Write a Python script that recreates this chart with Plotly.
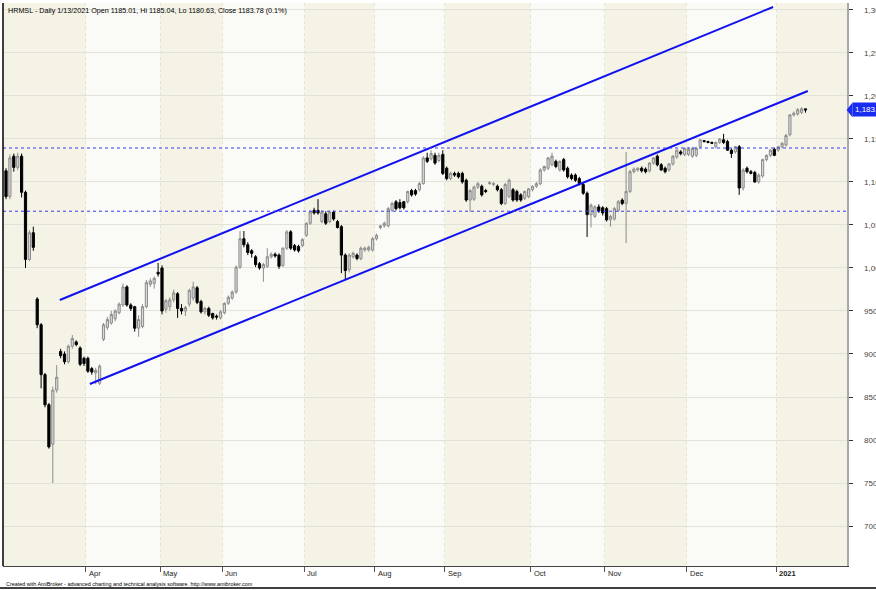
import plotly.graph_objects as go

# ---------------- data ----------------
opens = [1113, 1083, 1130, 1117, 1130, 1088, 1010, 1041, 964, 934, 876, 841, 795, 858, 903, 900, 891, 909, 914, 907, 895,
         895, 883, 878, 866, 917, 931, 936, 941, 948, 957, 978, 957, 955, 930, 932, 955, 981, 982, 995,
         1000, 952, 955, 963, 970, 953, 950, 958, 965, 977, 961, 949, 953, 947, 944, 942,
         948, 959, 965, 972, 1001, 1034, 1027, 1020, 1013, 1005, 1000, 1002, 1013, 1016, 1015, 1003, 1023, 1042, 1026, 1025, 1026,
         1038, 1052, 1067, 1067, 1054, 1063, 1054, 1065, 1054, 1048, 1015, 998, 1013, 1015, 1011, 1021, 1021, 1021,
         1034, 1047, 1049, 1049, 1067, 1077, 1076, 1077, 1077, 1090, 1090, 1091, 1098, 1128, 1127, 1131, 1125, 1132,
         1116, 1104, 1110, 1110, 1110, 1102, 1079, 1080, 1094, 1095, 1090, 1098, 1097, 1095, 1091, 1075, 1083, 1091, 1089, 1085, 1081, 1083,
         1091, 1095, 1098, 1114, 1116, 1120, 1124, 1114, 1126, 1116, 1108, 1108, 1104, 1097, 1087, 1062, 1060, 1071, 1070,
         1069, 1056, 1057, 1067, 1079, 1075, 1089, 1112, 1114, 1116, 1115, 1113, 1122, 1130, 1120, 1116, 1114, 1121, 1129, 1135, 1132,
         1132, 1130, 1131, 1141, 1148, 1147, 1146, 1141, 1146, 1149, 1147, 1137, 1135, 1141, 1093, 1116, 1112, 1111, 1100, 1107, 1126, 1131, 1138,
         1137, 1141, 1143, 1155, 1178, 1179, 1181, 1185.01]
highs = [1116, 1132, 1133, 1134, 1133, 1090, 1044, 1048, 966, 936, 878, 843, 862, 887, 906, 903, 911, 922, 916, 909, 897,
         897, 885, 884, 888, 936, 943, 950, 952, 960, 982, 980, 959, 956, 945, 958, 986, 988, 990, 1006,
         1003, 964, 966, 975, 972, 958, 956, 976, 984, 979, 963, 955, 955, 948, 946, 951,
         960, 968, 974, 1003, 1043, 1043, 1030, 1022, 1015, 1007, 1006, 1023, 1018, 1018, 1017, 1024, 1044, 1044, 1028, 1027, 1035,
         1053, 1067, 1070, 1080, 1067, 1066, 1067, 1067, 1056, 1050, 1017, 1017, 1019, 1017, 1025, 1025, 1026, 1036,
         1040, 1050, 1054, 1071, 1077, 1079, 1080, 1078, 1090, 1092, 1092, 1100, 1130, 1134, 1137, 1134, 1134, 1137,
         1118, 1112, 1112, 1112, 1112, 1104, 1092, 1096, 1100, 1097, 1092, 1101, 1100, 1097, 1093, 1099, 1104, 1093, 1091, 1087, 1090, 1093,
         1096, 1100, 1116, 1119, 1129, 1134, 1126, 1125, 1128, 1118, 1110, 1110, 1106, 1099, 1089, 1075, 1073, 1074, 1072,
         1071, 1062, 1071, 1079, 1081, 1135, 1114, 1117, 1117, 1118, 1117, 1123, 1129, 1132, 1122, 1118, 1122, 1131, 1138, 1137, 1140,
         1140, 1141, 1141, 1150, 1149, 1148, 1147, 1147, 1151, 1156, 1149, 1139, 1142, 1143, 1116, 1118, 1114, 1113, 1110, 1127, 1132, 1138, 1140,
         1142, 1146, 1156, 1179, 1182, 1186, 1187, 1185.04]
lows = [1080, 1080, 1112, 1114, 1082, 1000, 1008, 1020, 930, 860, 838, 790, 750, 855, 895, 888, 889, 906, 909, 886, 886,
        878, 876, 865, 864, 915, 928, 934, 938, 946, 955, 955, 950, 926, 920, 930, 953, 978, 976, 990,
        946, 948, 950, 960, 942, 946, 944, 955, 962, 958, 947, 946, 943, 940, 940, 940,
        946, 957, 963, 970, 999, 1024, 1015, 1012, 1001, 998, 984, 1000, 1011, 1012, 999, 1001, 1021, 1021, 1019, 1018, 1024,
        1036, 1050, 1062, 1062, 1052, 1050, 1052, 1055, 1046, 994, 986, 995, 1011, 1009, 1009, 1019, 1019, 1019,
        1032, 1045, 1047, 1047, 1065, 1067, 1068, 1068, 1075, 1083, 1084, 1089, 1097, 1122, 1125, 1120, 1123, 1108,
        1102, 1102, 1106, 1104, 1098, 1077, 1065, 1078, 1092, 1083, 1087, 1097, 1095, 1089, 1073, 1073, 1081, 1077, 1077, 1077, 1079, 1081,
        1089, 1093, 1096, 1112, 1114, 1118, 1116, 1112, 1112, 1104, 1102, 1100, 1096, 1085, 1036, 1047, 1058, 1064, 1061,
        1054, 1048, 1055, 1065, 1073, 1029, 1087, 1110, 1112, 1111, 1110, 1111, 1120, 1118, 1113, 1110, 1112, 1119, 1127, 1131, 1130,
        1130, 1128, 1129, 1139, 1146, 1145, 1144, 1139, 1144, 1144, 1136, 1128, 1133, 1085, 1090, 1110, 1109, 1099, 1098, 1105, 1124, 1129, 1130,
        1135, 1139, 1141, 1153, 1176, 1177, 1179, 1180.63]
closes = [1083, 1128, 1117, 1130, 1088, 1010, 1041, 1024, 934, 876, 841, 792, 858, 873, 898, 891, 909, 918, 911, 888, 889,
          880, 879, 881, 886, 934, 940, 946, 950, 958, 978, 957, 953, 930, 940, 955, 983, 985, 988, 993,
          950, 962, 963, 971, 953, 950, 954, 974, 978, 960, 949, 953, 945, 942, 943, 949,
          959, 966, 972, 1001, 1034, 1027, 1018, 1017, 1004, 1000, 1004, 1013, 1016, 1014, 1002, 1023, 1042, 1023, 1021, 1020, 1033,
          1052, 1065, 1064, 1064, 1065, 1052, 1065, 1057, 1047, 1015, 997, 1015, 1017, 1011, 1023, 1023, 1024, 1034,
          1038, 1049, 1052, 1069, 1075, 1069, 1070, 1070, 1089, 1085, 1086, 1098, 1128, 1124, 1133, 1122, 1131, 1110,
          1104, 1110, 1108, 1106, 1100, 1079, 1090, 1094, 1098, 1085, 1089, 1099, 1098, 1091, 1075, 1097, 1102, 1079, 1079, 1079, 1089, 1092,
          1095, 1098, 1114, 1118, 1128, 1130, 1118, 1124, 1114, 1106, 1104, 1102, 1098, 1087, 1062, 1073, 1071, 1066, 1064,
          1056, 1060, 1069, 1077, 1075, 1089, 1112, 1115, 1116, 1113, 1112, 1122, 1128, 1120, 1114, 1112, 1121, 1130, 1137, 1133, 1139,
          1138, 1139, 1139, 1149, 1147, 1146, 1145, 1146, 1150, 1146, 1137, 1133, 1141, 1093, 1114, 1112, 1110, 1100, 1108, 1126, 1131, 1137, 1131,
          1141, 1145, 1154, 1178, 1180, 1184, 1185, 1183.78]

month_labels = ["Apr", "May", "Jun", "Jul", "Aug", "Sep", "Oct", "Nov", "Dec", "2021"]
month_start_bar = [21, 40, 56, 77, 95, 113, 135, 154, 175, 198]

price_ticks = [700, 750, 800, 850, 900, 950, 1000, 1050, 1100, 1150, 1200, 1250, 1300]

# channel (trend) lines: [start bar, end bar] and prices
upper_line_x = [13.8, 196.7]
upper_line_y = [962.8, 1303.5]
lower_line_x = [21.5, 205.6]
lower_line_y = [865.1, 1205.8]

# horizontal support / resistance levels
levels = [1139.5, 1066.0]

last_close = 1183.78
title_text = "HRMSL - Daily 1/13/2021 Open 1185.01, Hi 1185.04, Lo 1180.63, Close 1183.78 (0.1%)"
footer_text = "Created with AmiBroker - advanced charting and technical analysis software. http://www.amibroker.com"

# ---------------- figure ----------------
bars = list(range(len(closes)))
BEIGE = "#f4f3e6"
LIGHT = "#fafaf6"
FONT = "Liberation Sans, Arial, sans-serif"

fig = go.Figure()

fig.add_trace(go.Candlestick(
    x=bars, open=opens, high=highs, low=lows, close=closes,
    increasing=dict(line=dict(color="#8c8c8c", width=1), fillcolor="#d8d8d8"),
    decreasing=dict(line=dict(color="#000000", width=1), fillcolor="#000000"),
    whiskerwidth=0, showlegend=False, hoverinfo="skip"))

fig.add_trace(go.Scatter(x=upper_line_x, y=upper_line_y, mode="lines",
                         line=dict(color="#1010f0", width=2), showlegend=False, hoverinfo="skip"))
fig.add_trace(go.Scatter(x=lower_line_x, y=lower_line_y, mode="lines",
                         line=dict(color="#1010f0", width=2), showlegend=False, hoverinfo="skip"))

shapes = []
# alternating month bands (lighter for Apr, Jun, Aug, Oct, Dec)
starts = month_start_bar
for k in range(0, len(starts) - 1, 2):
    shapes.append(dict(type="rect", xref="x", yref="paper", x0=starts[k] - 0.5, x1=starts[k + 1] - 0.5,
                       y0=0, y1=1, fillcolor=LIGHT, line=dict(width=0), layer="below"))
for lv in levels:
    shapes.append(dict(type="line", xref="paper", yref="y", x0=0, x1=1, y0=lv, y1=lv,
                       line=dict(color="#3a3af5", width=1, dash="dot")))
# left frame line
shapes.append(dict(type="line", xref="paper", yref="paper", x0=0, x1=0, y0=0, y1=1,
                   line=dict(color="#000000", width=1.5)))
# bottom frame of the picture
shapes.append(dict(type="line", xref="paper", yref="paper", x0=-0.01, x1=1.05, y0=-0.0391, y1=-0.0391,
                   line=dict(color="#000000", width=1.5)))
# price marker arrow
shapes.append(dict(type="path", xref="paper", yref="y",
                   path=f"M 0.9995,{last_close} L 1.0065,{last_close + 8.5} L 1.0065,{last_close - 8.5} Z",
                   fillcolor="#1a2cf0", line=dict(width=0)))

annotations = []
for lab, b in zip(month_labels, month_start_bar):
    annotations.append(dict(x=b - 0.5, y=0, xref="x", yref="paper", text=(f"<b>{lab}</b>" if lab == "2021" else lab),
                            showarrow=False, xanchor="left", yanchor="top", xshift=1, yshift=-1,
                            font=dict(family=FONT, size=7.5, color="#222222")))
annotations.append(dict(x=0.0035, y=0.999, xref="paper", yref="paper", text=title_text, showarrow=False,
                        xanchor="left", yanchor="top",
                        font=dict(family=FONT, size=7.2, color="#000000")))
annotations.append(dict(x=0.001, y=-0.0315, xref="paper", yref="paper", text=footer_text, showarrow=False,
                        xanchor="left", yanchor="middle",
                        font=dict(family=FONT, size=5.4, color="#000000")))
annotations.append(dict(x=1.0065, y=last_close, xref="paper", yref="y", text=f"{last_close:,.2f}", showarrow=False,
                        xanchor="left", yanchor="middle", bgcolor="#1a2cf0", borderpad=2,
                        font=dict(family=FONT, size=8, color="#ffffff")))

fig.update_layout(
    width=876, height=590,
    margin=dict(l=3, r=29, t=3, b=24, autoexpand=False),
    paper_bgcolor="#ffffff", plot_bgcolor=BEIGE,
    shapes=shapes, annotations=annotations,
    showlegend=False, boxgap=0.2,
    xaxis=dict(range=[-0.77, 215.64], rangeslider=dict(visible=False), automargin=False,
               tickvals=[b - 0.5 for b in month_start_bar], showticklabels=False,
               ticks="outside", ticklen=5, tickcolor="#555555",
               showgrid=True, gridcolor="#e3e3d8", griddash="dot", gridwidth=1,
               showline=True, linecolor="#444444", linewidth=1, zeroline=False, fixedrange=True),
    yaxis=dict(side="right", range=[653.5, 1308.1], tickvals=price_ticks, automargin=False,
               ticktext=[f"{v:,}" for v in price_ticks],
               ticks="outside", ticklen=4, tickcolor="#333333", ticklabelstandoff=10,
               tickfont=dict(family=FONT, size=8, color="#444444"),
               showgrid=True, gridcolor="#e2e2d8", gridwidth=1,
               showline=True, linecolor="#a8a8a8", linewidth=1.5, zeroline=False, fixedrange=True),
)

fig.write_html("out.html", config={"displayModeBar": False, "staticPlot": True},
               post_script="document.body.style.margin='0';document.body.style.padding='0';"
                           "document.body.style.overflow='hidden';")
